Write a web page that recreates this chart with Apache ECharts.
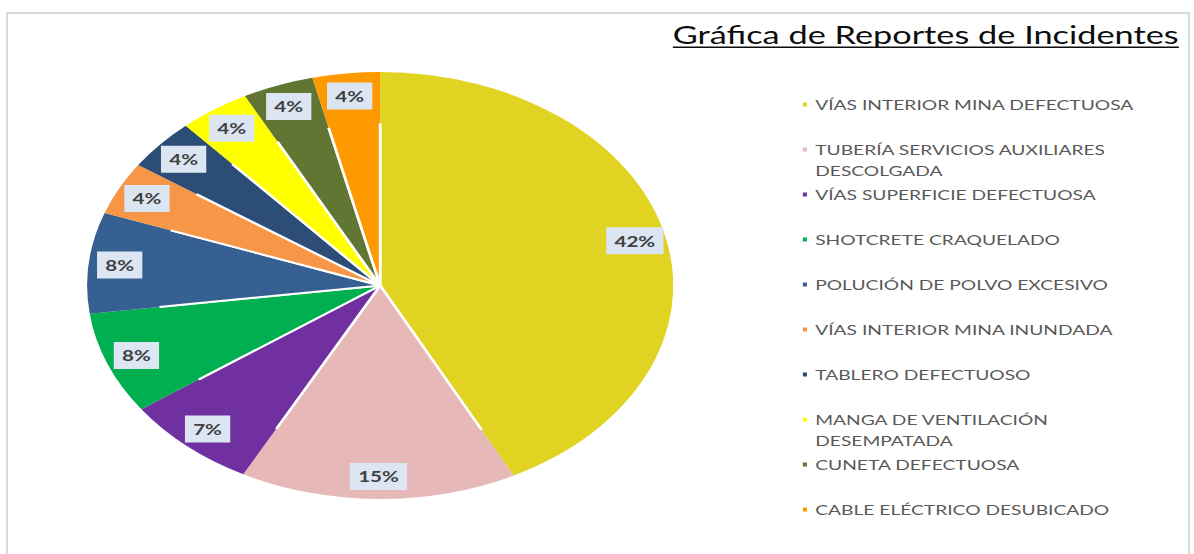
<!DOCTYPE html>
<html>
<head>
<meta charset="utf-8">
<title>Gráfica de Reportes de Incidentes</title>
<script src="https://cdn.jsdelivr.net/npm/echarts@6/dist/echarts.min.js"></script>
<style>
  html, body { margin: 0; padding: 0; background: #ffffff; overflow: hidden; }
  #marco {
    position: absolute; left: 6px; top: 12px;
    width: 1180px; height: 600px;
    border: 2px solid #d9d9d9;
  }
  /* la gráfica original está estirada a lo ancho */
  #reportes {
    position: absolute; left: 0; top: 0;
    width: 870px; height: 554px;
    transform: scaleX(1.3724);
    transform-origin: 0 0;
  }
</style>
</head>
<body>
<div id="marco"></div>
<div id="reportes"></div>
<script>
const titulo = "Gráfica de Reportes de Incidentes";
const categorias = [
  "VÍAS INTERIOR MINA DEFECTUOSA",
  "TUBERÍA SERVICIOS AUXILIARES DESCOLGADA",
  "VÍAS SUPERFICIE DEFECTUOSA",
  "SHOTCRETE CRAQUELADO",
  "POLUCIÓN DE POLVO EXCESIVO",
  "VÍAS INTERIOR MINA INUNDADA",
  "TABLERO DEFECTUOSO",
  "MANGA DE VENTILACIÓN DESEMPATADA",
  "CUNETA DEFECTUOSA",
  "CABLE ELÉCTRICO DESUBICADO"
];
const porcentajes = [42.3, 15.2, 7.4, 7.7, 7.6, 4.0, 3.9, 3.9, 3.9, 3.7];
const colores = [
  "#e0d322", "#e6b9b8", "#7030a0", "#00b050", "#366092",
  "#f79646", "#2c4d75", "#ffff00", "#607632", "#ff9900"
];
// nombres que en la leyenda van en dos renglones (renglón vacío arriba para
// que el primer renglón quede a la altura del cuadrito)
const enDosLineas = {
  "TUBERÍA SERVICIOS AUXILIARES DESCOLGADA": "\nTUBERÍA SERVICIOS AUXILIARES\nDESCOLGADA",
  "MANGA DE VENTILACIÓN DESEMPATADA": "\nMANGA DE VENTILACIÓN\nDESEMPATADA"
};

const fuente = "Lato, 'Open Sans', sans-serif";
const radio = 213.5;
const centro = [277, 285.5];

const datos = categorias.map(function (nombre, i) {
  return { name: nombre, value: porcentajes[i], itemStyle: { color: colores[i] } };
});

// ancho del título para el subrayado
const ctx = document.createElement("canvas").getContext("2d");
ctx.font = "25px Lato";
const anchoTitulo = ctx.measureText(titulo).width;

const chart = echarts.init(document.getElementById("reportes"), null, { renderer: "svg" });
chart.setOption({
  animation: false,
  title: {
    text: titulo,
    right: 11,
    top: 22,
    padding: 0,
    textStyle: { color: "#0d0d0d", fontFamily: fuente, fontSize: 25, fontWeight: "normal" }
  },
  graphic: [
    {
      type: "rect",
      right: 11,
      top: 46.5,
      shape: { width: anchoTitulo, height: 1.4 },
      style: { fill: "#0d0d0d" }
    }
  ],
  legend: {
    orient: "vertical",
    left: 583,
    top: 73,
    padding: 0,
    itemGap: -18,
    itemWidth: 5,
    itemHeight: 6,
    icon: "rect",
    selectedMode: false,
    data: categorias.map(function (nombre) {
      return {
        name: nombre,
        textStyle: { padding: enDosLineas[nombre] ? 0 : [21, 0, 21, 0] }
      };
    }),
    formatter: function (nombre) {
      return enDosLineas[nombre] || nombre;
    },
    textStyle: { color: "#595959", fontFamily: fuente, fontSize: 14, lineHeight: 21 }
  },
  series: [
    {
      name: "Incidentes",
      type: "pie",
      radius: radio,
      center: centro,
      startAngle: 90,
      clockwise: true,
      silent: true,
      data: datos,
      label: { show: false },
      labelLine: { show: false },
      itemStyle: { borderColor: "#ffffff", borderWidth: 2 }
    },
    {
      // anillo transparente sólo para colocar las etiquetas cerca del borde
      name: "Etiquetas",
      type: "pie",
      radius: [radio * 0.76, radio],
      center: centro,
      startAngle: 90,
      clockwise: true,
      silent: true,
      legendHoverLink: false,
      percentPrecision: 0,
      data: datos,
      itemStyle: { color: "transparent", borderWidth: 0 },
      label: {
        show: true,
        position: "inside",
        formatter: "{d}%",
        color: "#404040",
        fontFamily: fuente,
        fontSize: 15,
        fontWeight: "bold",
        backgroundColor: "#dce6f2",
        padding: [6, 6, 6, 6]
      },
      labelLine: { show: false }
    }
  ]
});
</script>
</body>
</html>
